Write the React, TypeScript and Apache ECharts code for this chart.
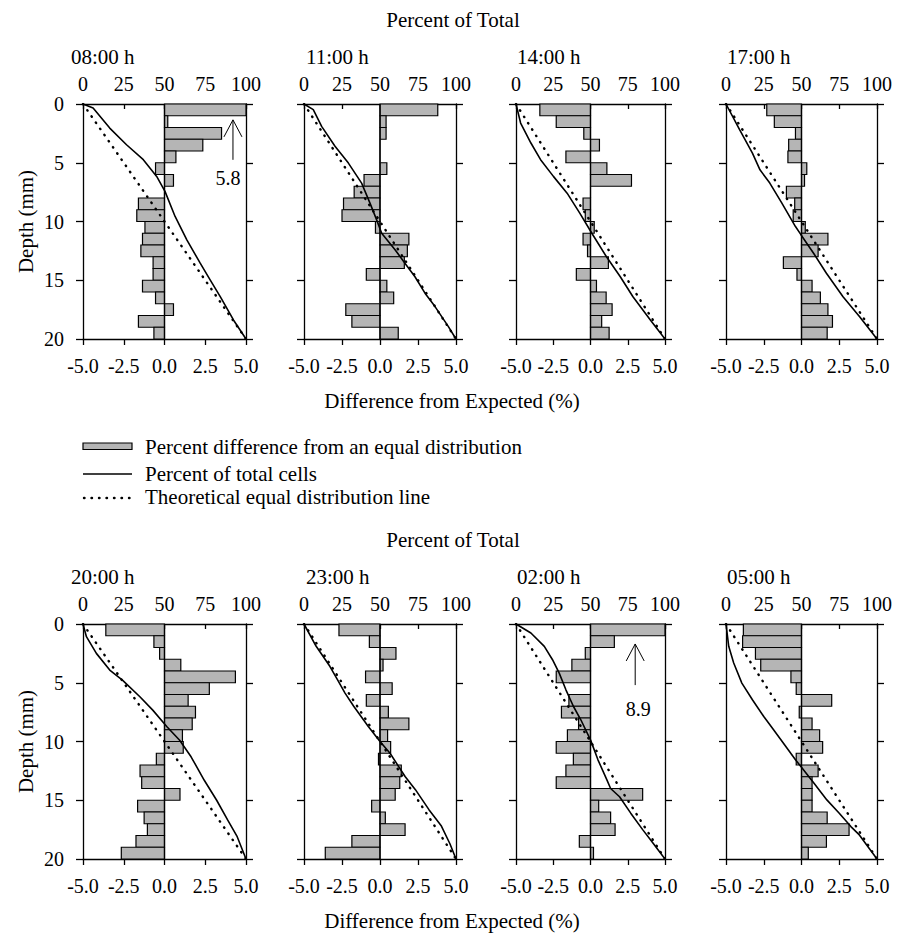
import React, { useEffect, useRef } from 'react';
import * as echarts from 'echarts';

const FONT = "'Liberation Serif', 'Times New Roman', Times, serif";

// ---------- DATA ----------
const panelTimes = ['08:00 h', '11:00 h', '14:00 h', '17:00 h', '20:00 h', '23:00 h', '02:00 h', '05:00 h'];

// Percent difference from an equal distribution, per 1-mm depth bin (0-1 ... 19-20 mm)
const diff0800 = [5.8, 0.2, 3.5, 2.35, 0.7, -0.55, 0.55, 0, -1.6, -1.7, -1.2, -1.35, -1.45, -0.7, -0.7, -1.35, -0.55, 0.55, -1.6, -0.65];
const diff1100 = [3.8, 0.4, 0.4, 0, 0, 0.45, -1.05, -1.7, -2.4, -2.5, -0.3, 1.9, 1.8, 1.6, -0.9, 0.45, 0.9, -2.25, -1.85, 1.2];
const diff1400 = [-3.4, -2.3, -0.45, 0.6, -1.65, 1.1, 2.75, 0, -0.5, -0.35, 0.25, -0.5, -0.2, 1.2, -0.95, 0.4, 1.05, 1.45, 0.75, 1.25];
const diff1700 = [-2.3, -1.8, -0.4, -0.85, -0.9, 0.35, 0.2, -1.0, -0.45, -0.55, 0.25, 1.75, 1.1, -1.2, -0.3, 0.7, 1.25, 1.75, 2.05, 1.7];
const diff2000 = [-3.6, -0.65, -0.3, 1.0, 4.35, 2.75, 1.45, 1.9, 1.7, 1.1, 1.15, -0.5, -1.5, -1.4, 0.95, -1.65, -1.25, -1.05, -1.75, -2.65];
const diff2300 = [-2.7, -0.7, 1.05, 0.2, -0.95, 0.8, -0.9, 0.55, 1.9, 0.5, 0.7, -0.1, 1.4, 1.3, 1.0, -0.55, 0.35, 1.65, -1.85, -3.6];
const diff0200 = [8.9, 1.6, -0.35, -1.25, -2.3, 0, -1.45, -1.95, -0.8, -1.55, -2.3, -1.15, -1.65, -2.3, 3.5, 0.55, 1.35, 1.65, -0.75, 0.2];
const diff0500 = [-3.85, -3.9, -3.05, -2.7, -0.7, -0.35, 2.0, -0.15, 0.7, 1.2, 1.4, -0.35, 1.1, 0.7, 0.7, 0.7, 1.7, 3.15, 1.65, 0.45];

// Percent of total cells (cumulative), as [percent, depth]
const cum0800 = [[0, 0], [6.2, 0.34], [16.4, 2.05], [26.7, 3.47], [37, 4.74], [45.2, 6.16], [50.3, 7.44], [56.5, 9.57], [63.7, 11.56], [71.9, 13.55], [78, 14.97], [84.2, 16.4], [92.4, 18.4], [100, 20]];
const cum1100 = [[0, 0], [6.1, 0.48], [11.6, 1.9], [20.4, 3.6], [29.2, 5.03], [37.9, 6.73], [43.4, 8.44], [47.8, 9.86], [51.1, 11], [59.9, 12.4], [66.4, 13.55], [73, 14.7], [79.6, 16.1], [86.2, 17.24], [95, 18.95], [100, 20]];
const cum1400 = [[0, 0], [3.1, 1.62], [10, 3.32], [16.5, 4.74], [25.1, 6.16], [34.3, 7.59], [42.8, 9.29], [50.9, 11], [60.6, 12.98], [70, 14.7], [78.5, 16.4], [90.3, 18.4], [100, 20]];
const cum1700 = [[0, 0], [9, 2.19], [17.5, 4.18], [22.5, 5.6], [29, 6.73], [37, 8.44], [46, 10.43], [49.5, 11.1], [58, 12.7], [66.5, 14.4], [77.5, 16.4], [88.5, 18.1], [100, 20]];
const cum2000 = [[0, 0], [2.1, 1.08], [8.2, 2.5], [16.4, 3.92], [24.2, 4.77], [34.9, 6.19], [42.8, 7.33], [51.5, 8.75], [59.3, 9.9], [66.3, 11.3], [74.4, 13.3], [82, 15], [88.8, 16.7], [94.6, 18.1], [100, 20]];
const cum2300 = [[0, 0], [8, 1.9], [17, 3.6], [22, 4.74], [27, 5.88], [32.7, 7.0], [42.3, 8.72], [50, 10], [56.6, 11], [66.5, 12.98], [73.3, 14.1], [82.2, 15.8], [90.4, 17.2], [96, 18.7], [100, 20]];
const cum0200 = [[0, 0], [10, 0.77], [19, 1.9], [24.5, 3.04], [29, 4.18], [33.5, 5.6], [38.5, 7], [43.5, 8.15], [50, 9.86], [55, 11.56], [61, 13.27], [63.5, 14], [69.5, 14.7], [77, 16.1], [85, 17.5], [90.5, 18.4], [100, 20]];
const cum0500 = [[0, 0], [1.8, 1.9], [5.1, 3.32], [10.5, 5.03], [17.5, 6.45], [25, 7.87], [31.5, 9], [39.5, 10.4], [46, 11.56], [50.5, 12.27], [58.3, 13.55], [66.8, 14.97], [75, 16.1], [82.7, 17.24], [88.3, 17.95], [100, 20]];

// Theoretical equal distribution line [percent, depth]
const equalLine = [[0, 0], [100, 20]];

const panelDiffs = [diff0800, diff1100, diff1400, diff1700, diff2000, diff2300, diff0200, diff0500];
const panelCums = [cum0800, cum1100, cum1400, cum1700, cum2000, cum2300, cum0200, cum0500];

// ---------- LAYOUT ----------
const ROW_TOP = [104, 624];
const PLOT_H = 235;
const COL_LEFT = [83, 304, 516, 726];
const COL_W = [163, 152, 149, 151];
// arrow annotation for clipped bars: [arrowX(diff), tipDepth, tailDepth, labelX(diff), labelDepth]
const ARROWS: Record<number, number[]> = {
  0: [4.2, 1.35, 4.75, 3.9, 6.3],
  6: [3.0, 1.7, 5.2, 3.2, 7.25],
};

const BAR_FILL = '#b5b5b5';

function axisLine() {
  return { show: true, onZero: false, lineStyle: { color: '#000', width: 1.3 } };
}

function buildOption() {
  const grid: any[] = [];
  const xAxis: any[] = [];
  const yAxis: any[] = [];
  const series: any[] = [];
  const graphic: any[] = [];

  panelTimes.forEach((time, k) => {
    const row = k < 4 ? 0 : 1;
    const col = k % 4;
    grid.push({ left: COL_LEFT[col], top: ROW_TOP[row], width: COL_W[col], height: PLOT_H });
    const labelStyle = { color: '#000', fontSize: 20, fontFamily: FONT };
    xAxis.push({
      gridIndex: k, type: 'value', position: 'bottom', min: -5, max: 5, interval: 2.5,
      axisLine: axisLine(),
      axisTick: { show: true, inside: false, length: 6, lineStyle: { color: '#000', width: 1.3 } },
      axisLabel: { ...labelStyle, margin: 17, formatter: (v: number) => v.toFixed(1) },
      splitLine: { show: false },
    });
    xAxis.push({
      gridIndex: k, type: 'value', position: 'top', min: 0, max: 100, interval: 25,
      axisLine: axisLine(),
      axisTick: { show: true, inside: true, length: 5, lineStyle: { color: '#000', width: 1.3 } },
      axisLabel: { ...labelStyle, margin: 10 },
      splitLine: { show: false },
    });
    yAxis.push({
      gridIndex: k, type: 'value', position: 'left', min: 0, max: 20, interval: 5, inverse: true,
      axisLine: axisLine(),
      axisTick: { show: true, inside: false, length: 7, lineStyle: { color: '#000', width: 1.3 } },
      axisLabel: { ...labelStyle, show: col === 0, margin: 19 },
      splitLine: { show: false },
    });
    yAxis.push({
      gridIndex: k, type: 'value', position: 'right', min: 0, max: 20, interval: 5, inverse: true,
      axisLine: axisLine(),
      axisTick: { show: true, inside: false, length: 7, lineStyle: { color: '#000', width: 1.3 } },
      axisLabel: { show: false },
      splitLine: { show: false },
    });

    const diffs = panelDiffs[k];
    series.push({
      type: 'custom',
      name: 'Percent difference from an equal distribution',
      xAxisIndex: 2 * k, yAxisIndex: 2 * k,
      data: diffs.map((v, i) => [i, v]),
      z: 2,
      renderItem: (_p: any, api: any) => {
        const i = api.value(0);
        const v = api.value(1);
        const vc = Math.max(-5, Math.min(5, v));
        const a = api.coord([0, i]);
        const b = api.coord([vc, i + 1]);
        return {
          type: 'group',
          children: [
            {
              type: 'rect',
              shape: { x: Math.min(a[0], b[0]), y: Math.min(a[1], b[1]), width: Math.abs(b[0] - a[0]), height: Math.abs(b[1] - a[1]) },
              style: { fill: BAR_FILL, stroke: '#000', lineWidth: 1.2 },
            },
            { type: 'line', shape: { x1: a[0], y1: a[1], x2: a[0], y2: b[1] }, style: { stroke: '#000', lineWidth: 1.3 } },
          ],
        };
      },
    });
    series.push({
      type: 'line', name: 'Percent of total cells',
      xAxisIndex: 2 * k + 1, yAxisIndex: 2 * k,
      data: panelCums[k], symbol: 'none', z: 4,
      lineStyle: { color: '#000', width: 1.6 },
    });
    series.push({
      type: 'line', name: 'Theoretical equal distribution line',
      xAxisIndex: 2 * k + 1, yAxisIndex: 2 * k,
      data: equalLine, symbol: 'none', z: 3,
      lineStyle: { color: '#000', width: 2.4, type: [0.5, 7], cap: 'round' },
    });

    if (ARROWS[k]) {
      const label = diffs[0].toFixed(1);
      series.push({
        type: 'custom',
        xAxisIndex: 2 * k, yAxisIndex: 2 * k,
        data: [ARROWS[k]],
        z: 5,
        renderItem: (_p: any, api: any) => {
          const tip = api.coord([api.value(0), api.value(1)]);
          const tail = api.coord([api.value(0), api.value(2)]);
          const lp = api.coord([api.value(3), api.value(4)]);
          return {
            type: 'group',
            children: [
              { type: 'line', shape: { x1: tip[0], y1: tip[1], x2: tail[0], y2: tail[1] }, style: { stroke: '#000', lineWidth: 1 } },
              { type: 'polyline', shape: { points: [[tip[0] - 9, tip[1] + 17], [tip[0], tip[1]], [tip[0] + 9, tip[1] + 17]] }, style: { stroke: '#000', fill: 'none', lineWidth: 1 } },
              { type: 'text', x: lp[0], y: lp[1], style: { text: label, fill: '#000', fontSize: 20, fontFamily: FONT, align: 'center', verticalAlign: 'middle' } },
            ],
          };
        },
      });
    }

    graphic.push({
      type: 'text', x: [71, 306, 517, 727][col], y: ROW_TOP[row] - 47,
      style: { text: time, fill: '#000', fontSize: 21, fontFamily: FONT, align: 'left', verticalAlign: 'middle', textAlign: 'left', textVerticalAlign: 'middle' },
    });
  });

  const txt = (text: string, x: number, y: number, align = 'center', extra: any = {}) => ({
    type: 'text', x, y, ...extra,
    style: { text, fill: '#000', fontSize: 21, fontFamily: FONT, align, verticalAlign: 'middle', textAlign: align, textVerticalAlign: 'middle' },
  });

  [0, 1].forEach((row) => {
    const top = ROW_TOP[row];
    graphic.push(txt('Percent of Total', 453, top - 84));
    graphic.push(txt('Difference from Expected (%)', 452, top + PLOT_H + 62));
    graphic.push(txt('Depth (mm)', 26, top + PLOT_H / 2, 'center', { rotation: Math.PI / 2 }));
  });

  // legend
  graphic.push({ type: 'rect', shape: { x: 83, y: 443, width: 49, height: 6.5 }, style: { fill: BAR_FILL, stroke: '#000', lineWidth: 1.2 } });
  graphic.push({ type: 'line', shape: { x1: 83, y1: 474, x2: 132, y2: 474 }, style: { stroke: '#000', lineWidth: 1.6 } });
  graphic.push({ type: 'line', shape: { x1: 84, y1: 498, x2: 132, y2: 498 }, style: { stroke: '#000', lineWidth: 2.4, lineDash: [0.5, 7], lineCap: 'round' } });
  graphic.push(txt('Percent difference from an equal distribution', 145, 447, 'left'));
  graphic.push(txt('Percent of total cells', 145, 474, 'left'));
  graphic.push(txt('Theoretical equal distribution line', 145, 497, 'left'));

  return { animation: false, backgroundColor: '#fff', grid, xAxis, yAxis, series, graphic };
}

export default function App() {
  const ref = useRef<HTMLDivElement>(null);
  useEffect(() => {
    const chart = echarts.init(ref.current!, undefined, { renderer: 'svg' });
    chart.setOption(buildOption() as any);
    return () => chart.dispose();
  }, []);
  return <div ref={ref} style={{ position: 'absolute', left: 0, top: 0, width: 903, height: 941, background: '#fff' }} />;
}
